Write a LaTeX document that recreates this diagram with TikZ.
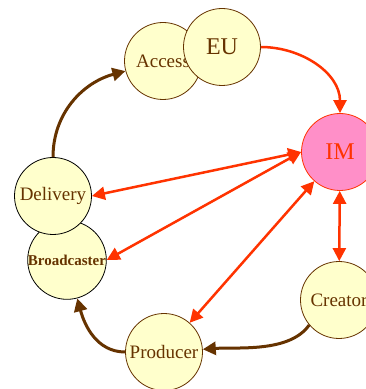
\documentclass[tikz,border=0pt]{standalone}
\usepackage{fontspec}
\setmainfont{Liberation Serif}
\usetikzlibrary{arrows.meta}
\definecolor{cream}{HTML}{FFFFCC}
\definecolor{bark}{HTML}{663300}
\definecolor{flame}{HTML}{FF3300}
\definecolor{rose}{HTML}{FF8FC8}
\begin{document}
\begin{tikzpicture}[x=1pt,y=1pt,>={Triangle[length=13pt,width=13pt]},
  main node/.style={circle,fill=cream,draw=bark,line width=0.8pt,text=bark,
  font=\fontsize{19}{19}\selectfont,minimum size=77pt,inner sep=0pt},
  dark node/.style={main node,draw=black},
  hub node/.style={main node,fill=rose,draw=flame,text=flame,
  font=\fontsize{24}{24}\selectfont},
  flow/.style={->,draw=bark,line width=3pt},
  link/.style={<->,draw=flame,line width=2.5pt}]

  \clip (0,0) rectangle (366,389);

  \node[main node] (acc) at (163,328) {Access};
  \node[main node,font=\fontsize{24}{24}\selectfont] (eu) at (222,342) {EU};
  \node[hub node] (im) at (340,237) {IM};
  \node[dark node,font=\fontsize{15}{15}\selectfont\bfseries] (bc) at (67,129) {Broadcaster};
  \node[dark node] (del) at (53,193) {Delivery};
  \node[main node] (prod) at (164,37) {Producer};
  \node[main node] (cre) at (339,89) {Creator};

  % brown production loop
  \path (cre.-140) edge[flow,out=-125,in=4,looseness=0.8] (prod)
        (prod) edge[flow,out=180,in=-75] (bc)
        (del)  edge[flow,out=90,in=195] (acc)
        (eu)   edge[->,draw=flame,line width=2.5pt,out=0,in=90] (im);

  % red links to IM
  \path (im.west) edge[link] (del.east)
        (im.west) edge[link] (bc.east)
        (im) edge[link] (prod)
        (im) edge[link] (cre);
\end{tikzpicture}
\end{document}
